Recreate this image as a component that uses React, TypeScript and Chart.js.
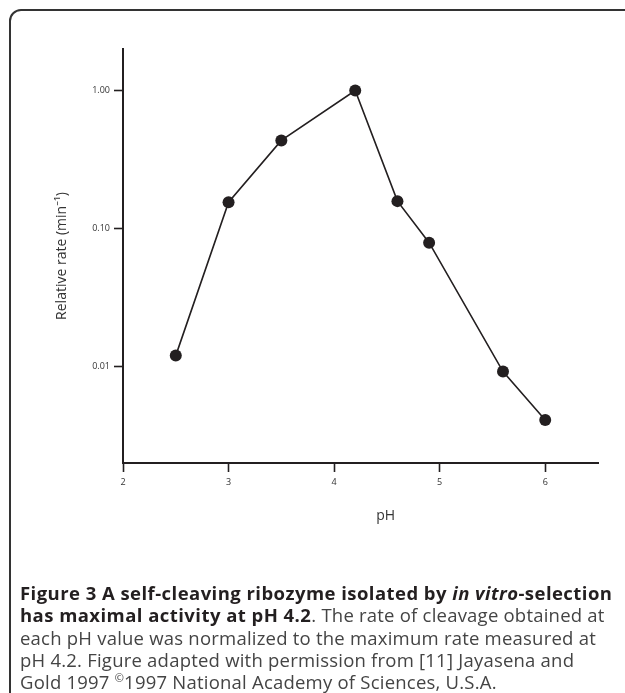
import React, { useEffect, useRef } from "react";
import { Chart, registerables } from "chart.js";

Chart.register(...registerables);

// ---- data ----
const phValues = [2.5, 3.0, 3.5, 4.2, 4.6, 4.9, 5.6, 6.0];
const relativeRates = [0.012, 0.155, 0.435, 1.0, 0.158, 0.079, 0.0092, 0.0041];
const xTickValues = [2, 3, 4, 5, 6];
const yTickValues = [0.01, 0.1, 1];
const yTickLabels = ["0.01", "0.10", "1.00"];
const xAxisTitle = "pH";
const yAxisTitle = "Relative rate (min\u207B\u00B9)";

const INK = "#231f20";
const FONT = "'Open Sans', 'Noto Sans', sans-serif";

const xTitlePlugin = {
  id: "xTitlePlugin",
  afterDraw(chart: any) {
    const { ctx, chartArea } = chart;
    ctx.save();
    ctx.fillStyle = "#333";
    ctx.font = `14px ${FONT}`;
    ctx.textAlign = "center";
    ctx.textBaseline = "middle";
    const x = chartArea.left + (chartArea.right - chartArea.left) * 0.553;
    ctx.fillText(xAxisTitle, x, chartArea.bottom + 53);
    ctx.restore();
  },
};

export default function App() {
  const canvasRef = useRef<HTMLCanvasElement | null>(null);

  useEffect(() => {
    document.body.style.overflow = "hidden";
    const canvas = canvasRef.current;
    if (!canvas) return;
    const chart = new Chart(canvas, {
      type: "line",
      data: {
        datasets: [
          {
            data: phValues.map((x, i) => ({ x, y: relativeRates[i] })),
            borderColor: INK,
            borderWidth: 1.6,
            pointRadius: 6,
            pointBackgroundColor: INK,
            pointBorderColor: INK,
            pointBorderWidth: 0,
            tension: 0,
            fill: false,
          },
        ],
      },
      options: {
        animation: false,
        responsive: false,
        maintainAspectRatio: false,
        layout: { padding: { left: 54, top: 49, right: 27, bottom: 0 } },
        plugins: {
          legend: { display: false },
          tooltip: { enabled: false },
        },
        scales: {
          x: {
            type: "linear",
            min: 2,
            max: 6.5,
            afterBuildTicks: (axis: any) => {
              axis.ticks = xTickValues.map((v) => ({ value: v }));
            },
            afterFit: (axis: any) => {
              axis.height = 540 - 463;
            },
            grid: {
              display: true,
              drawOnChartArea: false,
              drawTicks: true,
              tickLength: 9,
              tickWidth: 1.6,
              tickColor: INK,
            },
            border: { display: true, color: INK, width: 2 },
            ticks: {
              color: "#333",
              font: { family: FONT, size: 9 },
              padding: 5,
              maxRotation: 0,
              callback: (v: any) => String(v),
            },
          },
          y: {
            type: "logarithmic",
            min: 0.002,
            max: 2,
            afterBuildTicks: (axis: any) => {
              axis.ticks = yTickValues.map((v) => ({ value: v }));
            },
            afterFit: (axis: any) => {
              axis.width = 123 - 54;
            },
            grid: {
              display: true,
              drawOnChartArea: false,
              drawTicks: true,
              tickLength: 9,
              tickWidth: 1.6,
              tickColor: INK,
            },
            border: { display: true, color: INK, width: 2 },
            ticks: {
              color: "#333",
              font: { family: FONT, size: 9 },
              padding: 4,
              callback: (v: any) => {
                const i = yTickValues.findIndex((t) => Math.abs(t - v) < t * 1e-6);
                return i >= 0 ? yTickLabels[i] : "";
              },
            },
            title: {
              display: true,
              text: yAxisTitle,
              color: "#333",
              font: { family: FONT, size: 14 },
              padding: 0,
            },
          },
        },
      },
      plugins: [xTitlePlugin],
    });
    return () => chart.destroy();
  }, []);

  const boldStyle: React.CSSProperties = { fontWeight: 700, color: INK, letterSpacing: "0.45px" };

  return (
    <div>
      <canvas
        ref={canvasRef}
        width={625}
        height={540}
        style={{ position: "fixed", left: 0, top: 0, width: 625, height: 540 }}
      />
      <div
        style={{
          position: "fixed",
          left: 9,
          top: 9,
          right: -40,
          bottom: -40,
          border: "2px solid #333",
          borderRadius: 12,
          pointerEvents: "none",
        }}
      />
      <div
        style={{
          position: "fixed",
          left: 20,
          top: 582,
          fontFamily: FONT,
          fontSize: 18.5,
          lineHeight: "22.3px",
          letterSpacing: "0.22px",
          color: "#444",
          whiteSpace: "nowrap",
        }}
      >
        <span style={boldStyle}>
          Figure 3 A self-cleaving ribozyme isolated by <i>in vitro</i>-selection
        </span>
        <br />
        <span style={boldStyle}>has maximal activity at pH 4.2</span>. The rate of cleavage obtained at
        <br />
        each pH value was normalized to the maximum rate measured at
        <br />
        pH 4.2. Figure adapted with permission from [11] Jayasena and
        <br />
        Gold 1997 <sup style={{ fontSize: 11, lineHeight: 0 }}>©</sup>1997 National Academy of Sciences, U.S.A.
      </div>
    </div>
  );
}
